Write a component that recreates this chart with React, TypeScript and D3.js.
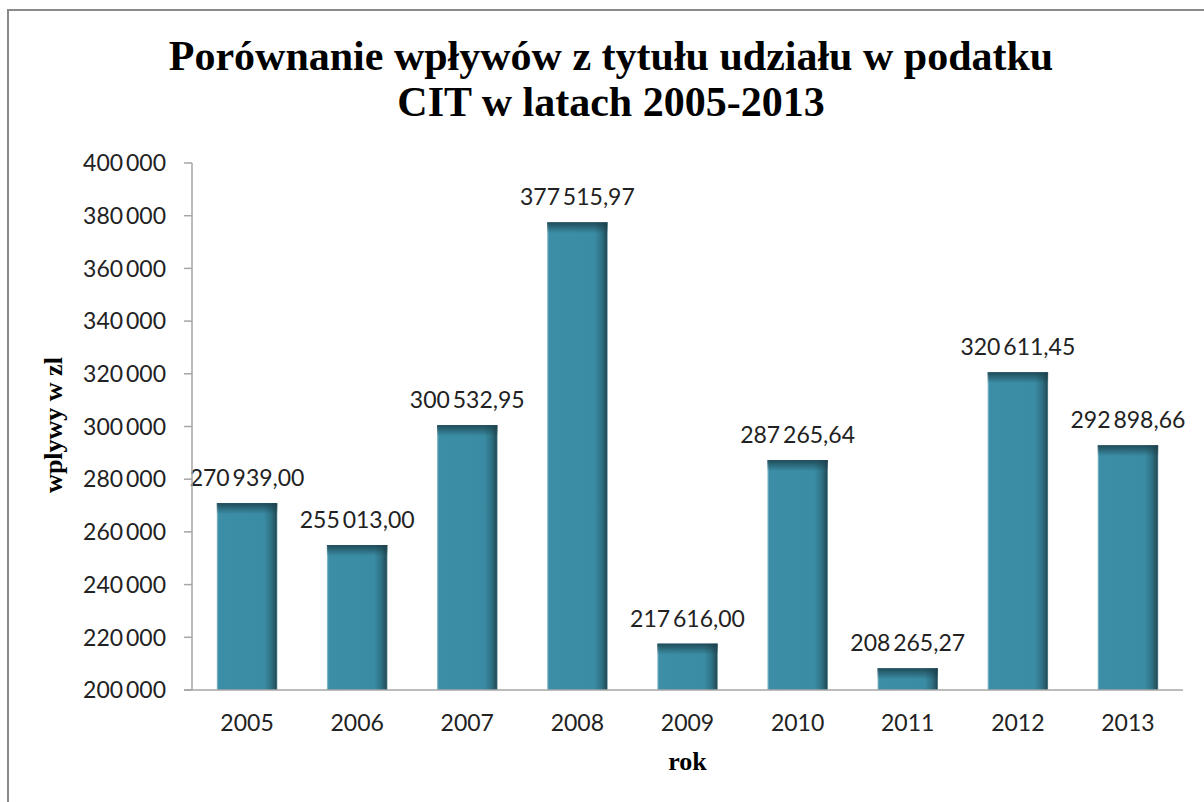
import * as d3 from "d3"
import React from "react"

const years = ["2005", "2006", "2007", "2008", "2009", "2010", "2011", "2012", "2013"]
const values = [270939.0, 255013.0, 300532.95, 377515.97, 217616.0, 287265.64, 208265.27, 320611.45, 292898.66]
const yTicks = [200000, 220000, 240000, 260000, 280000, 300000, 320000, 340000, 360000, 380000, 400000]
const titleLines = ["Porównanie wpływów z tytułu udziału w podatku", "CIT w latach 2005-2013"]

const W = 1204
const H = 802
const margin = { top: 163, right: 21, bottom: 112, left: 192 }

// "400 000" / "255 013,00" style
const fmtTick = (v: number) => d3.format(",")(v).replace(/,/g, "\u2009")
const fmtVal = (v: number) => {
    const [i, f] = v.toFixed(2).split(".")
    return i.replace(/\B(?=(\d{3})+(?!\d))/g, "\u2009") + "," + f
}

const App = () => {
    const x = d3
        .scaleBand()
        .domain(years)
        .range([margin.left, W - margin.right])
        .paddingInner(0.45)
        .paddingOuter(0.225)

    const y = d3
        .scaleLinear()
        .domain([200000, 400000])
        .range([H - margin.bottom, margin.top])

    const sans = "Lato, 'Open Sans', sans-serif"
    const serif = "'Liberation Serif', 'Times New Roman', serif"

    return (
        <svg width={W} height={H} style={{ position: "absolute", left: 0, top: 0, background: "#fff" }}>
            <defs>
                <linearGradient id="barH" x1="0" y1="0" x2="1" y2="0">
                    <stop offset="0" stopColor="#9cc7d3" />
                    <stop offset="0.03" stopColor="#3b8ea6" />
                    <stop offset="0.78" stopColor="#3a8ca4" />
                    <stop offset="0.9" stopColor="#2f7184" />
                    <stop offset="0.98" stopColor="#234d59" />
                    <stop offset="1" stopColor="#6f9aa6" />
                </linearGradient>
                <linearGradient id="barTop" x1="0" y1="0" x2="0" y2="1">
                    <stop offset="0" stopColor="#1b3f4a" stopOpacity="0.85" />
                    <stop offset="1" stopColor="#1b3f4a" stopOpacity="0" />
                </linearGradient>
            </defs>

            {/* outer frame */}
            <rect x={8} y={10} width={W + 20} height={H + 20} fill="none" stroke="#8a8a8a" strokeWidth={2} />

            {/* title */}
            {titleLines.map((t, i) => (
                <text key={t} x={611} y={70 + i * 46} textAnchor="middle"
                    fontFamily={serif} fontWeight="bold" fontSize={42} fill="#000">{t}</text>
            ))}

            {/* bars */}
            {years.map((yr, i) => {
                const bx = x(yr)!
                const by = y(values[i])
                const bh = y(200000) - by
                return (
                    <g key={yr}>
                        <rect x={bx} y={by} width={x.bandwidth()} height={bh} fill="url(#barH)" />
                        <rect x={bx} y={by} width={x.bandwidth()} height={Math.min(11, bh)} fill="url(#barTop)" />
                        <text x={bx + x.bandwidth() / 2} y={by - 17} textAnchor="middle"
                            fontFamily={sans} fontSize={23} fill="#222">{fmtVal(values[i])}</text>
                    </g>
                )
            })}

            {/* y axis */}
            <line x1={margin.left} x2={margin.left} y1={y(400000)} y2={y(200000)} stroke="#a6a6a6" strokeWidth={1.5} />
            {yTicks.map((t) => (
                <g key={t}>
                    <line x1={margin.left - 8} x2={margin.left} y1={y(t)} y2={y(t)} stroke="#a6a6a6" strokeWidth={1.5} />
                    <text x={margin.left - 26} y={y(t)} dy="0.36em" textAnchor="end"
                        fontFamily={sans} fontSize={23} fill="#222">{fmtTick(t)}</text>
                </g>
            ))}

            {/* x axis */}
            <line x1={margin.left - 8} x2={W - margin.right} y1={y(200000)} y2={y(200000)} stroke="#a6a6a6" strokeWidth={1.5} />
            {years.map((yr) => (
                <text key={yr} x={x(yr)! + x.bandwidth() / 2} y={731} textAnchor="middle"
                    fontFamily={sans} fontSize={23} fill="#222">{yr}</text>
            ))}

            {/* axis titles */}
            <text x={(margin.left + W - margin.right) / 2} y={770} textAnchor="middle"
                fontFamily={serif} fontWeight="bold" fontSize={26} fill="#000">rok</text>
            <text transform={`translate(62,425) rotate(-90)`} textAnchor="middle"
                fontFamily={serif} fontWeight="bold" fontSize={26} fill="#000">wplywy w zl</text>
        </svg>
    )
}

export default App
